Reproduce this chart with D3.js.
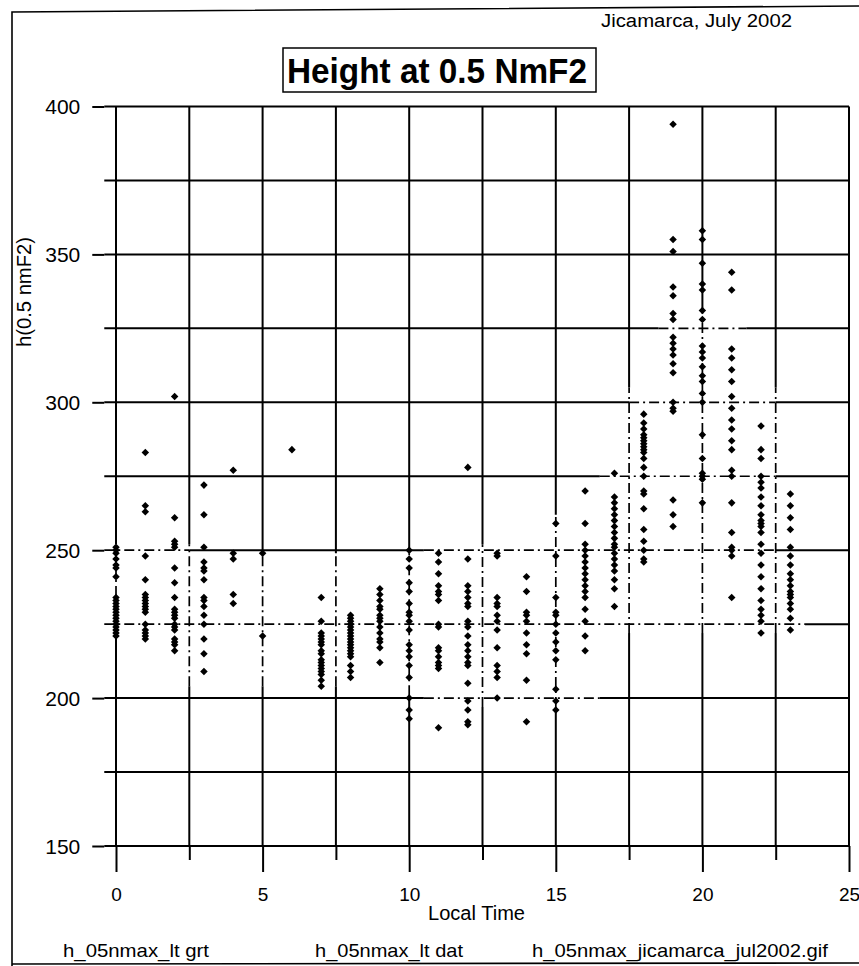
<!DOCTYPE html>
<html>
<head>
<meta charset="utf-8">
<script src="https://cdn.jsdelivr.net/npm/d3@7"></script>
<style>
  body { margin: 0; background: #fff; }
  svg { display: block; }
  text { font-family: "Liberation Sans", Arial, sans-serif; fill: #000; }
</style>
</head>
<body>
<svg id="chart" width="859" height="966"></svg>
<script>
// Local time (hour) of each observation column
const localHours = d3.range(24);

// h(0.5 NmF2) in km, one list per local hour 0..23
const heightsByHour = [
  [251, 250, 249, 247, 245, 244, 241, 234, 233, 232, 231, 230, 229, 228, 227, 226, 225, 224, 223, 222, 221],
  [283, 265, 263, 248, 240, 235, 234, 233, 232, 231, 230, 229, 225, 223, 222, 221, 220],
  [302, 261, 253, 252, 251, 244, 239, 234, 230, 229, 228, 227, 225, 224, 223, 220, 219, 218, 216],
  [272, 262, 251, 246, 244, 243, 240, 234, 233, 231, 228, 225, 220, 215, 209],
  [277, 249, 247, 235, 232],
  [249, 221],
  [284],
  [234, 226, 222, 221, 220, 219, 218, 216, 215, 213, 212, 211, 210, 209, 208, 206, 204],
  [228, 227, 226, 225, 224, 223, 222, 221, 220, 219, 218, 217, 216, 215, 214, 211, 209, 207],
  [237, 235, 233, 231, 230, 228, 227, 226, 224, 222, 220, 219, 217, 212],
  [250, 247, 244, 239, 236, 232, 229, 228, 226, 223, 218, 216, 214, 211, 207, 200, 196, 193],
  [249, 246, 242, 238, 236, 235, 233, 225, 224, 217, 216, 214, 212, 211, 210, 190],
  [278, 247, 238, 236, 234, 232, 231, 226, 224, 221, 218, 216, 214, 212, 211, 205, 199, 196, 192, 191],
  [249, 248, 234, 232, 231, 228, 226, 223, 217, 211, 209, 207, 200],
  [241, 236, 229, 228, 226, 222, 218, 215, 206, 192],
  [259, 248, 234, 229, 228, 225, 222, 219, 216, 213, 203, 199, 196],
  [270, 259, 252, 250, 248, 246, 244, 242, 240, 238, 236, 234, 230, 226, 221, 216],
  [276, 268, 266, 264, 262, 260, 258, 256, 254, 252, 251, 249, 247, 245, 243, 240, 237, 231],
  [296, 293, 291, 289, 288, 287, 286, 285, 284, 283, 281, 278, 275, 270, 269, 264, 257, 253, 250, 247, 246],
  [394, 355, 351, 339, 336, 330, 328, 322, 320, 318, 316, 313, 310, 300, 298, 297, 267, 262, 258],
  [358, 355, 347, 340, 338, 331, 328, 319, 317, 315, 312, 309, 307, 303, 300, 289, 281, 276, 275, 274, 266],
  [344, 338, 318, 315, 311, 307, 302, 298, 294, 291, 287, 284, 277, 275, 266, 256, 251, 250, 248, 234],
  [292, 284, 281, 275, 273, 271, 268, 265, 262, 260, 259, 258, 256, 252, 249, 245, 241, 237, 233, 230, 228, 226, 222],
  [269, 265, 261, 257, 251, 248, 245, 242, 240, 238, 236, 235, 234, 232, 230, 227, 223]
];

// Hourly spread band (km): grid lines inside it are drawn dash-dot
const spreadLow  = [221, 221, 221, 204, 204, 204, 204, 204, 204, 204, 201, 197,
                    197, 197, 197, 197, 197, 222, 222, 222, 222, 222, 222, 222];
const spreadHigh = [252, 252, 252, 249, 249, 249, 249, 249, 249, 249, 249, 252,
                    252, 252, 252, 262, 262, 279, 305, 330, 330, 330, 305, 249];

// Axis ticks
const xMajorTicks = [0, 5, 10, 15, 20, 25];
const xMinorTicks = [2.5, 7.5, 12.5, 17.5, 22.5];
const yMajorTicks = [150, 200, 250, 300, 350, 400];
const yMinorTicks = [175, 225, 275, 325, 375];

const titleText = "Height at 0.5 NmF2";
const siteText = "Jicamarca, July 2002";
const xTitle = "Local Time";
const yTitle = "h(0.5 nmF2)";
const footerTexts = ["h_05nmax_lt grt", "h_05nmax_lt dat", "h_05nmax_jicamarca_jul2002.gif"];

const svg = d3.select("#chart");

const xStart = -0.4, xEnd = 25;
const x = d3.scaleLinear().domain([0, 25]).range([116, 849]);
const y = d3.scaleLinear().domain([150, 400]).range([846, 106.5]);

const DASH = "10,4,2,4";
const LW = 2;

// outer page frame
svg.append("path")
  .attr("d", "M12,966 L12,12 L859,6 M12,964 L859,963")
  .attr("fill", "none").attr("stroke", "#000").attr("stroke-width", 1.6);

// ---------- grid ----------
const grid = svg.append("g").attr("stroke", "#000").attr("fill", "none");

function mergeRuns(runs) {
  const out = [];
  runs.forEach(r => {
    const last = out[out.length - 1];
    if (last && last.dashed === r.dashed && Math.abs(last.b - r.a) < 1e-9) last.b = r.b;
    else out.push({ ...r });
  });
  return out;
}

// horizontal grid lines, dash-dot where they cross the hourly band
[...yMajorTicks, ...yMinorTicks].forEach(v => {
  const breaks = [xStart];
  localHours.forEach(h => breaks.push(h + 0.5));
  breaks.push(xEnd);
  const runs = [];
  for (let i = 0; i < breaks.length - 1; i++) {
    const a = breaks[i], b = breaks[i + 1];
    const mid = (a + b) / 2;
    const h = Math.round(mid);
    const inHour = h >= 0 && h < 24 && Math.abs(mid - h) <= 0.5;
    const dashed = inHour && v >= spreadLow[h] && v <= spreadHigh[h];
    runs.push({ a, b, dashed });
  }
  mergeRuns(runs).forEach(r => {
    grid.append("line")
      .attr("x1", x(r.a)).attr("x2", x(r.b))
      .attr("y1", y(v)).attr("y2", y(v))
      .attr("stroke-width", r.dashed ? 1.7 : LW)
      .attr("stroke-dasharray", r.dashed ? DASH : null);
  });
});

// vertical grid lines
[...xMajorTicks, ...xMinorTicks].forEach(t => {
  const near = localHours.filter(h => Math.abs(h - t) <= 0.5 + 1e-9);
  const runs = [];
  if (near.length && t < 25) {
    const lo = d3.min(near, h => spreadLow[h]);
    const hi = d3.max(near, h => spreadHigh[h]);
    runs.push({ a: 150, b: lo, dashed: false }, { a: lo, b: hi, dashed: true }, { a: hi, b: 400, dashed: false });
  } else {
    runs.push({ a: 150, b: 400, dashed: false });
  }
  runs.forEach(r => {
    grid.append("line")
      .attr("x1", x(t)).attr("x2", x(t))
      .attr("y1", y(r.a)).attr("y2", y(r.b))
      .attr("stroke-width", r.dashed ? 1.7 : LW)
      .attr("stroke-dasharray", r.dashed ? DASH : null);
  });
});

// ---------- axes ----------
const left = svg.append("g").attr("transform", `translate(${x(xStart)},0)`)
  .call(d3.axisLeft(y).tickValues(yMajorTicks).tickSize(12).tickPadding(12).tickFormat(d3.format("d")));
left.select(".domain").remove();
left.selectAll("line").attr("stroke", "#000").attr("stroke-width", LW);
left.selectAll("text").style("font-size", "21px").attr("dy", "0.34em")
  .style("font-family", "'Liberation Sans', Arial, sans-serif");

const bottom = svg.append("g").attr("transform", `translate(0,${y(150)})`)
  .call(d3.axisBottom(x).tickValues(xMajorTicks).tickSize(26).tickPadding(16).tickFormat(d3.format("d")));
bottom.select(".domain").remove();
bottom.selectAll("line").attr("stroke", "#000").attr("stroke-width", LW);
bottom.selectAll("text").style("font-size", "19px").attr("dy", "0.71em")
  .style("font-family", "'Liberation Sans', Arial, sans-serif");

const bottomMinor = svg.append("g").attr("transform", `translate(0,${y(150)})`)
  .call(d3.axisBottom(x).tickValues(xMinorTicks).tickSize(14).tickFormat(""));
bottomMinor.select(".domain").remove();
bottomMinor.selectAll("line").attr("stroke", "#000").attr("stroke-width", LW);

// ---------- data points ----------
const pts = [];
heightsByHour.forEach((list, h) => list.forEach(v => pts.push({ h: localHours[h], v })));
const diamond = d3.symbol().type(d3.symbolDiamond2 || d3.symbolDiamond).size(36);
svg.append("g").selectAll("path").data(pts).join("path")
  .attr("d", diamond)
  .attr("transform", d => `translate(${x(d.h)},${y(d.v)})`)
  .attr("fill", "#000");

// ---------- texts ----------
svg.append("rect")
  .attr("x", 283).attr("y", 48).attr("width", 313).attr("height", 44)
  .attr("fill", "none").attr("stroke", "#000").attr("stroke-width", 1.5);
svg.append("text").attr("x", 287).attr("y", 83)
  .attr("textLength", 300).attr("lengthAdjust", "spacingAndGlyphs")
  .style("font-size", "35px").style("font-weight", "bold").text(titleText);

svg.append("text").attr("x", 601).attr("y", 27)
  .attr("textLength", 191).attr("lengthAdjust", "spacingAndGlyphs")
  .style("font-size", "18px").text(siteText);

svg.append("text").attr("x", 428).attr("y", 920)
  .attr("textLength", 97).attr("lengthAdjust", "spacingAndGlyphs")
  .style("font-size", "20px").text(xTitle);

svg.append("text")
  .attr("transform", "translate(31,292) rotate(-90)")
  .attr("text-anchor", "middle")
  .attr("textLength", 110).attr("lengthAdjust", "spacingAndGlyphs")
  .style("font-size", "20px").text(yTitle);

const footerPos = [[63, 146], [315, 148], [532, 296]];
footerTexts.forEach((t, i) => {
  svg.append("text").attr("x", footerPos[i][0]).attr("y", 957)
    .attr("textLength", footerPos[i][1]).attr("lengthAdjust", "spacingAndGlyphs")
    .style("font-size", "19px").text(t);
});
</script>
</body>
</html>
